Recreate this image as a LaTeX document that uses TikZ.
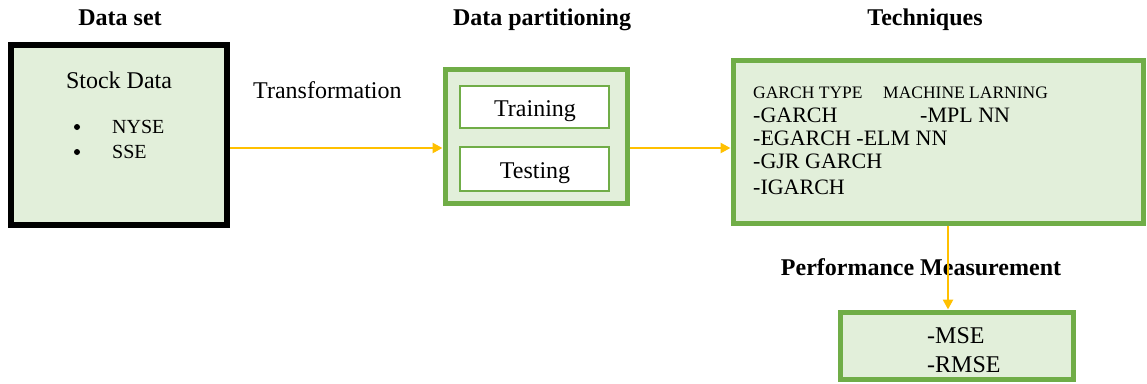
\documentclass[tikz,border=0pt]{standalone}
\usepackage{fontspec}
\setmainfont{Liberation Serif}
\usetikzlibrary{arrows.meta}
\definecolor{gborder}{HTML}{70AD47}
\definecolor{gfill}{HTML}{E2EFDA}
\definecolor{arr}{HTML}{FFC000}
\tikzset{
  box/.style={draw=gborder, line width=5pt, fill=gfill, rectangle, inner sep=0pt},
  blackbox/.style={draw=black, line width=6pt, fill=gfill, rectangle, inner sep=0pt},
  innerbox/.style={draw=gborder, line width=1.2pt, fill=white, rectangle, inner sep=0pt},
  flow/.style={draw=arr, line width=2.5pt, -{Triangle[length=10pt,width=10pt]}},
  title/.style={font=\fontsize{24}{28}\selectfont\bfseries, inner sep=0pt, anchor=base},
  txt/.style={font=\fontsize{24}{28}\selectfont, inner sep=0pt},
  list/.style={font=\fontsize{22}{26}\selectfont, inner sep=0pt, anchor=base west},
  small/.style={font=\fontsize{20}{24}\selectfont, inner sep=0pt, anchor=base west},
  hdr/.style={font=\fontsize{17.5}{20}\selectfont, inner sep=0pt, anchor=base west},
  dot/.style={circle, fill=black, inner sep=0pt, minimum size=6pt},
}
\begin{document}
\begin{tikzpicture}[x=1pt,y=-1pt]
\useasboundingbox (0,0) rectangle (1147,383);
% titles
\node[title] (t1) at (120,25) {Data set};
\node[title] (t2) at (542,25) {Data partitioning};
\node[title] (t3) at (925,25) {Techniques};
% stock data
\node[blackbox, minimum width=216pt, minimum height=180pt] (stock) at (119,135) {};
\node[txt, anchor=base] (sd) at (119,88) {Stock Data};
\node[dot] (b1) at (77,127) {};
\node[small] (nyse) at (112,133) {NYSE};
\node[dot] (b2) at (77,152) {};
\node[small] (sse) at (112,158) {SSE};
% transformation
\node[txt, anchor=base west] (trf) at (253,98) {Transformation};
% partitioning
\node[box, minimum width=182pt, minimum height=134pt] (part) at (536,136) {};
\node[innerbox, minimum width=149pt, minimum height=42pt] (train) at (534.5,107) {};
\node[txt, anchor=base] (traint) at (535,116) {Training};
\node[innerbox, minimum width=149pt, minimum height=44pt] (test) at (534.5,169) {};
\node[txt, anchor=base] (testt) at (535,178) {Testing};
% techniques
\node[box, minimum width=410pt, minimum height=163pt] (tech) at (938,141.5) {};
\node[hdr] (h1) at (753,98) {GARCH TYPE};
\node[hdr] (h2) at (883,98) {MACHINE LARNING};
\node[list] (l1) at (753,122) {-GARCH};
\node[list] (l1b) at (920,122) {-MPL NN};
\node[list] (l2) at (753,145) {-EGARCH -ELM NN};
\node[list] (l3) at (753,168) {-GJR GARCH};
\node[list] (l4) at (753,194) {-IGARCH};
% performance
\node[title] (pm) at (921,275) {Performance Measurement};
\node[box, minimum width=233pt, minimum height=67pt] (perf) at (956.5,345.5) {};
\node[txt, anchor=base west] (mse) at (927,343) {-MSE};
\node[txt, anchor=base west] (rmse) at (927,372) {-RMSE};
% connectors
\coordinate (ya) at (0,148);
\coordinate (vx) at (948,0);
\draw[flow] (stock.east |- ya) -- (part.west |- ya);
\draw[flow] (part.east |- ya) -- (tech.west |- ya);
\draw[flow] (tech.south -| vx) -- (perf.north -| vx);
\end{tikzpicture}
\end{document}
